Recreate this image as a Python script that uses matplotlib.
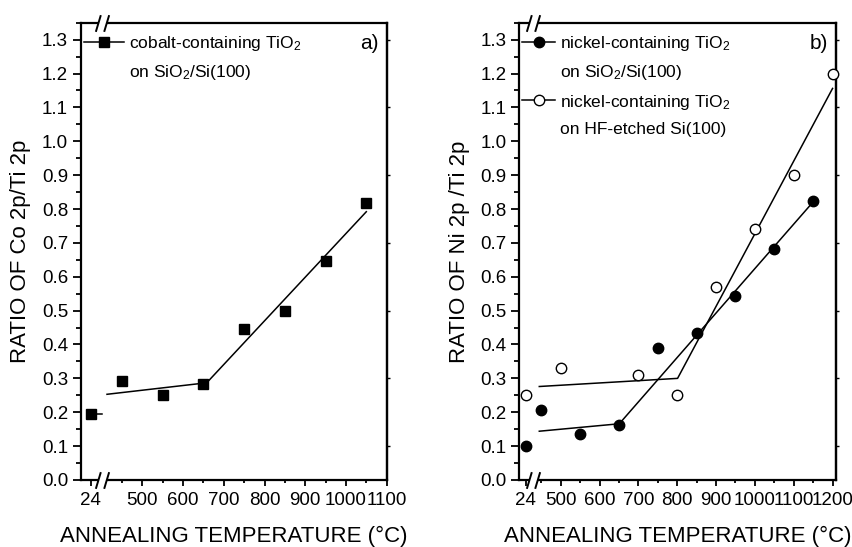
import numpy as np
import matplotlib
matplotlib.use("Agg")
import matplotlib.pyplot as plt
import matplotlib.transforms as mtransforms
from matplotlib.lines import Line2D
from matplotlib.path import Path
from matplotlib.ticker import FixedLocator, MultipleLocator, FormatStrFormatter, NullFormatter

plt.rcParams['font.family'] = ['Liberation Sans', 'DejaVu Sans']
plt.rcParams['mathtext.fontset'] = 'custom'
plt.rcParams['mathtext.rm'] = 'Liberation Sans'
plt.rcParams['mathtext.default'] = 'regular'

# ---- data ----
# a) cobalt-containing TiO2 on SiO2/Si(100)
co_temp  = [24, 450, 550, 650, 750, 850, 950, 1050]
co_ratio = [0.194, 0.291, 0.251, 0.283, 0.447, 0.499, 0.646, 0.819]
co_fit_temp  = [413, 658, 1050]
co_fit_ratio = [0.253, 0.287, 0.792]
co_stub_temp  = [24, 50]
co_stub_ratio = [0.194, 0.194]

# b) nickel-containing TiO2 on SiO2/Si(100)
ni_sio2_temp  = [24, 450, 550, 650, 750, 850, 950, 1050, 1150]
ni_sio2_ratio = [0.100, 0.207, 0.135, 0.163, 0.390, 0.435, 0.543, 0.682, 0.823]
ni_sio2_fit_temp  = [445, 651, 1150]
ni_sio2_fit_ratio = [0.144, 0.166, 0.821]

# b) nickel-containing TiO2 on HF-etched Si(100)
ni_hf_temp  = [24, 500, 700, 800, 900, 1000, 1100, 1200]
ni_hf_ratio = [0.250, 0.330, 0.310, 0.250, 0.571, 0.740, 0.900, 1.199]
ni_hf_fit_temp  = [445, 801, 1200]
ni_hf_fit_ratio = [0.276, 0.300, 1.156]

xticks_a = [24, 500, 600, 700, 800, 900, 1000, 1100]
xminor_a = [450, 550, 650, 750, 850, 950, 1050]
xticks_b = [24, 500, 600, 700, 800, 900, 1000, 1100, 1200]
xminor_b = [450, 550, 650, 750, 850, 950, 1050, 1150]
yticks_right = [0.1, 0.3, 0.5, 0.7, 0.9, 1.1, 1.3]

# "//" break symbol as marker paths
SLASHES = Path([(-0.8, -1), (-0.2, 1), (0.2, -1), (0.8, 1)],
               [Path.MOVETO, Path.LINETO, Path.MOVETO, Path.LINETO])
GAP = Path([(-0.8, -1), (0.2, -1), (0.8, 1), (-0.2, 1), (-0.8, -1)],
           [Path.MOVETO, Path.LINETO, Path.LINETO, Path.LINETO, Path.CLOSEPOLY])


def broken_scale(brk1, brk2, hi, pre_w, post_w):
    # piecewise linear axis: [0, brk1] -> pre_w, [brk2, hi] -> post_w
    xs = np.array([0.0, brk1, brk2, hi])
    us = np.array([0.0, pre_w, pre_w + 1e-6, pre_w + post_w])
    k1 = pre_w / brk1
    k2 = post_w / (hi - brk2)

    def fwd(x):
        x = np.asarray(x, float)
        out = np.interp(x, xs, us)
        out = np.where(x < 0, x * k1, out)
        out = np.where(x > hi, us[-1] + (x - hi) * k2, out)
        return out

    def inv(u):
        u = np.asarray(u, float)
        out = np.interp(u, us, xs)
        out = np.where(u < 0, u / k1, out)
        out = np.where(u > us[-1], hi + (u - us[-1]) / k2, out)
        return out

    return fwd, inv


def style_axes(ax, brk1, brk2, hi, pre_w, post_w, majors, minors):
    fwd, inv = broken_scale(brk1, brk2, hi, pre_w, post_w)
    ax.set_xscale('function', functions=(fwd, inv))
    ax.set_xlim(0, hi)
    ax.set_ylim(0, 1.35)
    ax.xaxis.set_major_locator(FixedLocator(majors))
    ax.xaxis.set_minor_locator(FixedLocator(minors))
    ax.set_xticklabels([str(t) for t in majors])
    ax.yaxis.set_major_locator(MultipleLocator(0.1))
    ax.yaxis.set_minor_locator(MultipleLocator(0.05))
    ax.yaxis.set_major_formatter(FormatStrFormatter('%.1f'))
    for s in ax.spines.values():
        s.set_linewidth(1.6)
    ax.tick_params(axis='y', which='major', direction='out', length=6, width=1.3,
                   labelsize=13.5, pad=3)
    ax.tick_params(axis='y', which='minor', direction='out', length=3.5, width=1.3)
    ax.tick_params(axis='x', which='major', direction='out', length=4.5, width=1.3,
                   labelsize=13.5, pad=4)
    ax.tick_params(axis='x', which='minor', direction='out', length=2.5, width=1.3)

    # small mirror ticks on the right spine
    sec = ax.secondary_yaxis('right')
    sec.set_yticks(yticks_right)
    sec.yaxis.set_major_formatter(NullFormatter())
    sec.tick_params(length=2.5, width=1.0, direction='out')
    sec.spines['right'].set_linewidth(1.6)

    # break marks on top and bottom spines
    trans = mtransforms.blended_transform_factory(ax.transData, ax.transAxes)
    for yy in (0, 1):
        ax.plot([brk1], [yy], transform=trans, marker=GAP, ms=12, mew=0,
                color='white', clip_on=False, zorder=6)
        ax.plot([brk1], [yy], transform=trans, marker=SLASHES, ms=12, mew=1.4,
                color='black', fillstyle='none', clip_on=False, zorder=7)
    ax.set_xlabel('ANNEALING TEMPERATURE (°C)', fontsize=16)
    ax.xaxis.set_label_coords(0.5, -0.1)


fig = plt.figure(figsize=(8.53, 5.47), dpi=100)
axA = fig.add_axes([0.0944, 0.1225, 0.3589, 0.836])
axB = fig.add_axes([0.6084, 0.1225, 0.3722, 0.836])

style_axes(axA, 50, 400, 1100, 21.2, 285.0, xticks_a, xminor_a)
style_axes(axB, 50, 430, 1210, 14.5, 303.0, xticks_b, xminor_b)

# ---- panel a ----
axA.plot(co_fit_temp, co_fit_ratio, color='black', lw=1.1)
axA.plot(co_stub_temp, co_stub_ratio, color='black', lw=1.1)
axA.plot(co_temp, co_ratio, linestyle='none', marker='s', ms=7.5,
         color='black', zorder=4)
axA.set_ylabel('RATIO OF Co 2p/Ti 2p', fontsize=16)
axA.yaxis.set_label_coords(-0.162, 0.5)
axA.text(0.975, 0.955, 'a)', transform=axA.transAxes, ha='right', va='center',
         fontsize=15)
hA = [Line2D([], [], color='black', lw=1.1, marker='s', ms=7.5),
      Line2D([], [], linestyle='none')]
axA.legend(hA, ['cobalt-containing TiO$_2$', 'on SiO$_2$/Si(100)'],
           loc='upper left', bbox_to_anchor=(0.01, 0.976), frameon=False,
           fontsize=12.5, handlelength=2.3, handletextpad=0.3,
           labelspacing=0.6, borderpad=0, borderaxespad=0)

# ---- panel b ----
axB.plot(ni_sio2_fit_temp, ni_sio2_fit_ratio, color='black', lw=1.1)
axB.plot(ni_hf_fit_temp, ni_hf_fit_ratio, color='black', lw=1.1)
axB.plot(ni_sio2_temp, ni_sio2_ratio, linestyle='none', marker='o', ms=7.5,
         color='black', zorder=4)
axB.plot(ni_hf_temp, ni_hf_ratio, linestyle='none', marker='o', ms=7.5,
         markerfacecolor='white', markeredgecolor='black', mew=1.0, zorder=4,
         clip_on=False)
axB.set_ylabel('RATIO OF Ni 2p /Ti 2p', fontsize=16)
axB.yaxis.set_label_coords(-0.153, 0.5)
axB.text(0.975, 0.955, 'b)', transform=axB.transAxes, ha='right', va='center',
         fontsize=15)
hB = [Line2D([], [], color='black', lw=1.1, marker='o', ms=7.5),
      Line2D([], [], linestyle='none'),
      Line2D([], [], color='black', lw=1.1, marker='o', ms=7.5,
             markerfacecolor='white', markeredgecolor='black', mew=1.0),
      Line2D([], [], linestyle='none')]
axB.legend(hB, ['nickel-containing TiO$_2$', 'on SiO$_2$/Si(100)',
                'nickel-containing TiO$_2$', 'on HF-etched Si(100)'],
           loc='upper left', bbox_to_anchor=(0.01, 0.976), frameon=False,
           fontsize=12.5, handlelength=1.9, handletextpad=0.3,
           labelspacing=0.6, borderpad=0, borderaxespad=0)

fig.savefig('out.png', dpi=100)
